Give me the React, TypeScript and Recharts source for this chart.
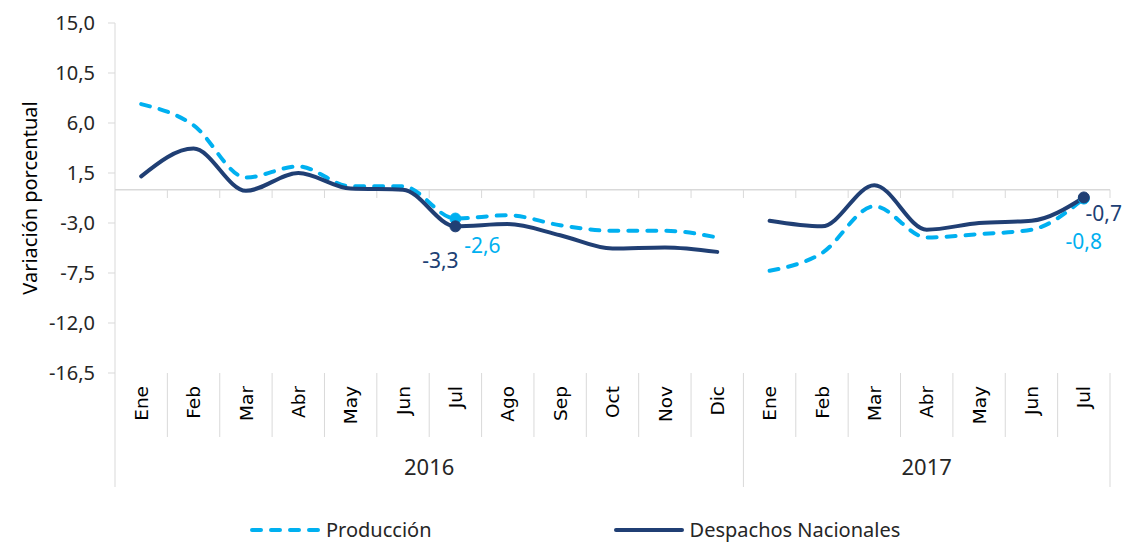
import React from 'react';
import { LineChart, Line, XAxis, YAxis, ReferenceLine, Legend, LabelList } from 'recharts';

// ---- data ----
const months2016 = ['Ene', 'Feb', 'Mar', 'Abr', 'May', 'Jun', 'Jul', 'Ago', 'Sep', 'Oct', 'Nov', 'Dic'];
const months2017 = ['Ene', 'Feb', 'Mar', 'Abr', 'May', 'Jun', 'Jul'];
const yearLabels = ['2016', '2017'];
const produccion2016 = [7.7, 5.8, 1.1, 2.1, 0.3, 0.3, -2.6, -2.3, -3.2, -3.7, -3.7, -4.3];
const produccion2017 = [-7.3, -5.7, -1.5, -4.3, -4.0, -3.6, -0.8];
const despachos2016 = [1.2, 3.7, -0.1, 1.5, 0.1, 0.0, -3.3, -3.1, -4.1, -5.3, -5.2, -5.6];
const despachos2017 = [-2.8, -3.3, 0.4, -3.6, -3.0, -2.8, -0.7];
const yTicks = [15, 10.5, 6, 1.5, -3, -7.5, -12, -16.5];
const highlighted = ['2016-Jul', '2017-Jul'];
const seriesNames = { prod: 'Producción', desp: 'Despachos Nacionales' };
const legendOrder = ['prod', 'desp'];

// ---- derived table ----
const groups = [
  { year: yearLabels[0], months: months2016, prod: produccion2016, desp: despachos2016 },
  { year: yearLabels[1], months: months2017, prod: produccion2017, desp: despachos2017 },
];
const data: any[] = [];
groups.forEach((g) => {
  g.months.forEach((m, j) => {
    const row: any = { x: data.length + 0.5, month: m, year: g.year, key: `${g.year}-${m}` };
    groups.forEach((h) => {
      row[`prod${h.year}`] = h === g ? g.prod[j] : null;
      row[`desp${h.year}`] = h === g ? g.desp[j] : null;
    });
    data.push(row);
  });
});
const groupStarts: number[] = [];
const groupCenters: Record<string, string> = {};
let acc = 0;
groups.forEach((g) => {
  groupStarts.push(acc);
  groupCenters[String(acc + g.months.length / 2)] = g.year;
  acc += g.months.length;
});
const total = acc;
const xTicks = Array.from({ length: total * 2 + 1 }, (_, i) => i / 2);
const boundaries = Array.from({ length: total }, (_, i) => i + 1);

// ---- styles ----
const FONT = 'Noto Sans';
const LIGHT = '#00B0F0';
const NAVY = '#203F74';
const GRID = '#d9d9d9';
const TEXT = '#262626';

const fmt = (v: number) => v.toFixed(1).replace('.', ',');

const labelOffsets: Record<string, { dx: number; dy: number }> = {
  prod2016: { dx: 27, dy: 26 },
  prod2017: { dx: 0, dy: 42 },
  desp2016: { dx: -15, dy: 34 },
  desp2017: { dx: 20, dy: 16 },
};

const XTick = (props: any) => {
  const { x, y, payload } = props;
  const v = payload.value;
  const els: any[] = [];
  if (Number.isInteger(v)) {
    const long = groupStarts.includes(v) || v === total;
    els.push(<line key="l" x1={x} x2={x} y1={y} y2={y + (long ? 114 : 64)} stroke={GRID} strokeWidth={1} />);
  } else {
    const row = data[Math.floor(v)];
    els.push(
      <text
        key="m"
        transform={`translate(${x},${y + 13}) rotate(-90)`}
        textAnchor="end"
        dy="0.36em"
        fontFamily="DejaVu Sans"
        fontSize={18.5}
        fill="#000"
      >
        {row.month}
      </text>
    );
  }
  const yr = groupCenters[String(v)];
  if (yr) {
    els.push(
      <text key="y" x={x} y={y + 94} textAnchor="middle" dy="0.36em" fontFamily={FONT} fontSize={22} fill={TEXT}>
        {yr}
      </text>
    );
  }
  return <g>{els}</g>;
};

const makeDot = (color: string, dataKey: string) => (props: any) => {
  const { cx, cy, index, payload } = props;
  const row = data[index];
  if (!payload || payload[dataKey] == null || !highlighted.includes(row.key) || cx == null) {
    return <g key={`${dataKey}-d${index}`} />;
  }
  return <circle key={`${dataKey}-d${index}`} cx={cx} cy={cy} r={5.5} fill={color} stroke={color} />;
};

const makeLabel = (color: string, dataKey: string) => (props: any) => {
  const { x, y, index, value } = props;
  const row = data[index];
  if (value == null || !row || !highlighted.includes(row.key)) return null;
  const o = labelOffsets[dataKey];
  return (
    <text x={x + o.dx} y={y + o.dy} fill={color} fontFamily={FONT} fontSize={21} textAnchor="middle" dominantBaseline="central">
      {fmt(Number(value))}
    </text>
  );
};

const renderLegend = (props: any) => {
  const items = (props.payload || [])
    .filter((p: any) => p.type !== 'none')
    .slice()
    .sort(
      (a: any, b: any) =>
        legendOrder.indexOf(String(a.dataKey).slice(0, 4)) - legendOrder.indexOf(String(b.dataKey).slice(0, 4))
    );
  return (
    <div
      style={{
        display: 'flex',
        alignItems: 'center',
        paddingLeft: 250,
        paddingTop: 0,
        height: 26,
        fontFamily: FONT,
        fontSize: 20,
        lineHeight: '24px',
        color: TEXT,
        boxSizing: 'border-box',
      }}
    >
      {items.map((it: any, i: number) => {
        const dashed = String(it.dataKey).startsWith('prod');
        return (
          <div key={i} style={{ display: 'flex', alignItems: 'center', marginRight: 182 }}>
            <svg width={70} height={10} style={{ display: 'block' }}>
              <line
                x1={2}
                x2={68}
                y1={5}
                y2={5}
                stroke={it.color}
                strokeWidth={4}
                strokeLinecap="round"
                strokeDasharray={dashed ? '9 10' : undefined}
              />
            </svg>
            <span style={{ marginLeft: 6, whiteSpace: 'nowrap' }}>{it.value}</span>
          </div>
        );
      })}
    </div>
  );
};

export default function App() {
  const lines = [
    { key: 'prod2016', color: LIGHT, dashed: true, name: seriesNames.prod, legend: true },
    { key: 'prod2017', color: LIGHT, dashed: true, name: seriesNames.prod, legend: false },
    { key: 'desp2016', color: NAVY, dashed: false, name: seriesNames.desp, legend: true },
    { key: 'desp2017', color: NAVY, dashed: false, name: seriesNames.desp, legend: false },
  ];
  return (
    <div style={{ position: 'absolute', left: 0, top: 0, width: 1125, height: 543, background: '#fff' }}>
      <LineChart
        width={1125}
        height={543}
        data={data}
        margin={{ top: 23, right: 15, bottom: 0, left: 0 }}
        style={{ fontFamily: FONT }}
      >
        <XAxis
          dataKey="x"
          type="number"
          domain={[0, total]}
          ticks={xTicks}
          interval={0}
          allowDecimals
          tick={<XTick />}
          tickLine={false}
          axisLine={false}
          tickSize={0}
          tickMargin={0}
          height={144}
        />
        <YAxis
          type="number"
          domain={[-16.5, 15]}
          ticks={yTicks}
          interval={0}
          tickFormatter={fmt}
          axisLine={{ stroke: GRID }}
          tickLine={{ stroke: GRID }}
          tickSize={7}
          tickMargin={13}
          width={115}
          tick={{ fontFamily: FONT, fontSize: 20, fill: TEXT }}
          label={{
            value: 'Variación porcentual',
            angle: -90,
            position: 'insideLeft',
            offset: 30,
            style: { textAnchor: 'middle', fontFamily: FONT, fontSize: 20, fill: '#000' },
          }}
        />
        <ReferenceLine y={0} stroke={GRID} strokeWidth={1.5} />
        {boundaries.map((b) => (
          <ReferenceLine
            key={`b${b}`}
            segment={[
              { x: b, y: 0 },
              { x: b, y: -0.75 },
            ]}
            stroke={GRID}
            strokeWidth={1}
          />
        ))}
        {lines.map((l) => (
          <Line
            key={l.key}
            dataKey={l.key}
            name={l.name}
            type="monotone"
            stroke={l.color}
            strokeWidth={4}
            strokeDasharray={l.dashed ? '9 10' : undefined}
            strokeLinecap="round"
            dot={makeDot(l.color, l.key)}
            activeDot={false}
            legendType={l.legend ? 'line' : 'none'}
            isAnimationActive={false}
          >
            <LabelList dataKey={l.key} content={makeLabel(l.color, l.key)} />
          </Line>
        ))}
        <Legend verticalAlign="bottom" height={26} content={renderLegend} wrapperStyle={{ left: 0, width: 1125 }} />
      </LineChart>
    </div>
  );
}
